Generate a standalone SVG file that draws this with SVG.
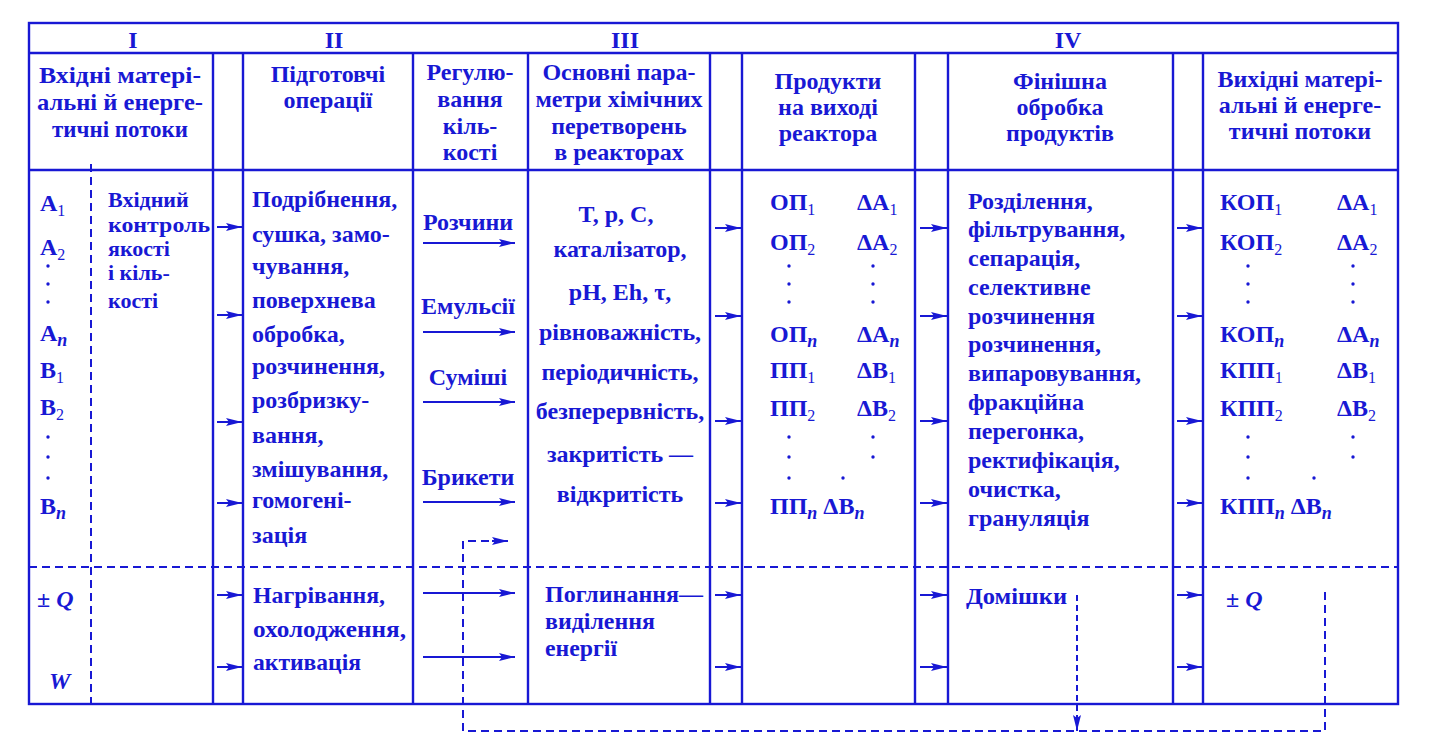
<svg xmlns="http://www.w3.org/2000/svg" width="1429" height="751" viewBox="0 0 1429 751">
<style>
.ln{stroke:#1818d4;stroke-width:2.4;fill:none}
.ds{stroke:#1818d4;stroke-width:2;fill:none;stroke-dasharray:8 5}
.ar{stroke:#1818d4;stroke-width:2;fill:none;marker-end:url(#ah)}
.ad{stroke:#1818d4;stroke-width:2;fill:none;stroke-dasharray:6 4;marker-end:url(#ah)}
text{font-family:"Liberation Serif","Times New Roman",serif;font-weight:bold;fill:#1818d4;font-size:24px}
.c{text-anchor:middle}
.h{font-size:24px}
.s{font-size:16px;font-weight:normal}
.n{font-size:18px;font-style:italic}
.nar{font-size:24px}
.ctl{font-size:22px}
.i{font-style:italic}
.dot{fill:#1818d4}
</style>
<defs>
<marker id="ah" markerUnits="userSpaceOnUse" markerWidth="16" markerHeight="9" refX="16" refY="4.5" orient="auto">
<path d="M0,0.5 L16,4.5 L0,8.5 L3,4.5 z" fill="#1818d4"/>
</marker>
</defs>

<g id="frame">
<rect x="29" y="23" width="1369" height="681" class="ln"/>
<line x1="29" y1="53" x2="1398" y2="53" class="ln"/>
<line x1="29" y1="170" x2="1398" y2="170" class="ln" stroke-width="2.6"/>
<line x1="29" y1="567" x2="1398" y2="567" class="ds"/>
<line x1="213" y1="53" x2="213" y2="704" class="ln"/>
<line x1="243" y1="53" x2="243" y2="704" class="ln"/>
<line x1="413" y1="53" x2="413" y2="704" class="ln"/>
<line x1="528" y1="53" x2="528" y2="704" class="ln"/>
<line x1="710" y1="53" x2="710" y2="704" class="ln"/>
<line x1="742" y1="53" x2="742" y2="704" class="ln"/>
<line x1="915" y1="53" x2="915" y2="704" class="ln"/>
<line x1="948" y1="53" x2="948" y2="704" class="ln"/>
<line x1="1173" y1="53" x2="1173" y2="704" class="ln"/>
<line x1="1203" y1="53" x2="1203" y2="704" class="ln"/>
<line x1="91" y1="164" x2="91" y2="704" class="ds"/>
</g>

<g id="roman">
<text x="133" y="48" class="c">I</text>
<text x="334" y="48" class="c">II</text>
<text x="625" y="48" class="c">III</text>
<text x="1068" y="48" class="c">IV</text>
</g>

<g id="h-input">
<text x="120" y="83" class="c h" textLength="162" lengthAdjust="spacingAndGlyphs">Вхідні матері-</text>
<text x="120" y="110" class="c h" textLength="166" lengthAdjust="spacingAndGlyphs">альні й енерге-</text>
<text x="120" y="137" class="c h" textLength="136" lengthAdjust="spacingAndGlyphs">тичні потоки</text>
</g>
<g id="h-prep">
<text x="328" y="82" class="c h">Підготовчі</text>
<text x="328" y="108" class="c h">операції</text>
</g>
<g id="h-reg">
<text x="470" y="80" class="c h">Регулю-</text>
<text x="470" y="107" class="c h">вання</text>
<text x="470" y="134" class="c h">кіль-</text>
<text x="470" y="160" class="c h">кості</text>
</g>
<g id="h-params">
<text x="619" y="80" class="c h">Основні пара-</text>
<text x="619" y="107" class="c h">метри хімічних</text>
<text x="619" y="134" class="c h">перетворень</text>
<text x="619" y="160" class="c h">в реакторах</text>
</g>
<g id="h-products">
<text x="828" y="89" class="c h">Продукти</text>
<text x="828" y="115" class="c h">на виході</text>
<text x="828" y="141" class="c h">реактора</text>
</g>
<g id="h-finish">
<text x="1060" y="89" class="c h">Фінішна</text>
<text x="1060" y="115" class="c h">обробка</text>
<text x="1060" y="141" class="c h">продуктів</text>
</g>
<g id="h-output">
<text x="1300" y="87" class="c h">Вихідні матері-</text>
<text x="1300" y="113" class="c h">альні й енерге-</text>
<text x="1300" y="139" class="c h">тичні потоки</text>
</g>

<g id="inputs">
<text x="40" y="211">A<tspan class="s" dy="5">1</tspan></text>
<text x="40" y="255">A<tspan class="s" dy="5">2</tspan></text>
<circle cx="48" cy="266" r="1.7" class="dot"/>
<circle cx="48" cy="284" r="1.7" class="dot"/>
<circle cx="48" cy="302" r="1.7" class="dot"/>
<text x="40" y="341">A<tspan class="n" dy="5">n</tspan></text>
<text x="40" y="378">B<tspan class="s" dy="5">1</tspan></text>
<text x="40" y="415">B<tspan class="s" dy="5">2</tspan></text>
<circle cx="48" cy="437" r="1.7" class="dot"/>
<circle cx="48" cy="457" r="1.7" class="dot"/>
<circle cx="48" cy="478" r="1.7" class="dot"/>
<text x="40" y="514">B<tspan class="n" dy="5">n</tspan></text>
<text x="37" y="607" class="i">± Q</text>
<text x="49" y="689" class="i">W</text>
</g>

<g id="control">
<text x="108" y="207" class="ctl">Вхідний</text>
<text x="108" y="232" class="ctl" textLength="102" lengthAdjust="spacingAndGlyphs">контроль</text>
<text x="108" y="256" class="ctl">якості</text>
<text x="108" y="280" class="ctl">і кіль-</text>
<text x="108" y="308" class="ctl">кості</text>
</g>

<g id="prep">
<text x="252" y="207">Подрібнення,</text>
<text x="252" y="242">сушка, замо-</text>
<text x="252" y="274">чування,</text>
<text x="252" y="308">поверхнева</text>
<text x="252" y="342">обробка,</text>
<text x="252" y="374">розчинення,</text>
<text x="252" y="408">розбризку-</text>
<text x="252" y="443">вання,</text>
<text x="252" y="477">змішування,</text>
<text x="252" y="508">гомогені-</text>
<text x="252" y="543">зація</text>
<text x="253" y="603" class="nar" textLength="132" lengthAdjust="spacingAndGlyphs">Нагрівання,</text>
<text x="253" y="637" class="nar" textLength="153" lengthAdjust="spacingAndGlyphs">охолодження,</text>
<text x="253" y="670" class="nar" textLength="108" lengthAdjust="spacingAndGlyphs">активація</text>
</g>

<g id="regulation">
<text x="468" y="230" class="c">Розчини</text>
<text x="468" y="314" class="c">Емульсії</text>
<text x="468" y="385" class="c">Суміші</text>
<text x="468" y="485" class="c">Брикети</text>
</g>

<g id="params">
<text x="616" y="222" class="c">T, p, C,</text>
<text x="620" y="257" class="c">каталізатор,</text>
<text x="620" y="300" class="c">pH, Eh, τ,</text>
<text x="620" y="340" class="c">рівноважність,</text>
<text x="620" y="380" class="c">періодичність,</text>
<text x="620" y="419" class="c">безперервність,</text>
<text x="620" y="462" class="c">закритість —</text>
<text x="620" y="502" class="c">відкритість</text>
<text x="545" y="602" class="nar" textLength="158" lengthAdjust="spacingAndGlyphs">Поглинання—</text>
<text x="545" y="629" class="nar" textLength="110" lengthAdjust="spacingAndGlyphs">виділення</text>
<text x="545" y="656" class="nar" textLength="72" lengthAdjust="spacingAndGlyphs">енергії</text>
</g>

<g id="products">
<text x="770" y="210">ОП<tspan class="s" dy="5">1</tspan></text>
<text x="857" y="210">ΔA<tspan class="s" dy="5">1</tspan></text>
<text x="770" y="250">ОП<tspan class="s" dy="5">2</tspan></text>
<text x="857" y="250">ΔA<tspan class="s" dy="5">2</tspan></text>
<circle cx="789" cy="266" r="1.7" class="dot"/>
<circle cx="789" cy="284" r="1.7" class="dot"/>
<circle cx="789" cy="302" r="1.7" class="dot"/>
<circle cx="873" cy="266" r="1.7" class="dot"/>
<circle cx="873" cy="284" r="1.7" class="dot"/>
<circle cx="873" cy="302" r="1.7" class="dot"/>
<text x="770" y="342">ОП<tspan class="n" dy="5">n</tspan></text>
<text x="857" y="342">ΔA<tspan class="n" dy="5">n</tspan></text>
<text x="770" y="378">ПП<tspan class="s" dy="5">1</tspan></text>
<text x="857" y="378">ΔB<tspan class="s" dy="5">1</tspan></text>
<text x="770" y="416">ПП<tspan class="s" dy="5">2</tspan></text>
<text x="857" y="416">ΔB<tspan class="s" dy="5">2</tspan></text>
<circle cx="789" cy="437" r="1.7" class="dot"/>
<circle cx="789" cy="457" r="1.7" class="dot"/>
<circle cx="789" cy="478" r="1.7" class="dot"/>
<circle cx="873" cy="437" r="1.7" class="dot"/>
<circle cx="873" cy="457" r="1.7" class="dot"/>
<circle cx="843" cy="478" r="1.7" class="dot"/>
<text x="770" y="514">ПП<tspan class="n" dy="5">n</tspan><tspan dy="-5"> ΔB</tspan><tspan class="n" dy="5">n</tspan></text>
</g>

<g id="finish">
<text x="968" y="209">Розділення,</text>
<text x="968" y="237">фільтрування,</text>
<text x="968" y="266">сепарація,</text>
<text x="968" y="295">селективне</text>
<text x="968" y="324">розчинення</text>
<text x="968" y="352">розчинення,</text>
<text x="968" y="381">випаровування,</text>
<text x="968" y="410">фракційна</text>
<text x="968" y="439">перегонка,</text>
<text x="968" y="468">ректифікація,</text>
<text x="968" y="497">очистка,</text>
<text x="968" y="526">грануляція</text>
<text x="966" y="604" class="nar" textLength="101" lengthAdjust="spacingAndGlyphs">Домішки</text>
</g>

<g id="outputs">
<text x="1220" y="210">КОП<tspan class="s" dy="5">1</tspan></text>
<text x="1337" y="210">ΔA<tspan class="s" dy="5">1</tspan></text>
<text x="1220" y="250">КОП<tspan class="s" dy="5">2</tspan></text>
<text x="1337" y="250">ΔA<tspan class="s" dy="5">2</tspan></text>
<circle cx="1248" cy="266" r="1.7" class="dot"/>
<circle cx="1248" cy="284" r="1.7" class="dot"/>
<circle cx="1248" cy="302" r="1.7" class="dot"/>
<circle cx="1353" cy="266" r="1.7" class="dot"/>
<circle cx="1353" cy="284" r="1.7" class="dot"/>
<circle cx="1353" cy="302" r="1.7" class="dot"/>
<text x="1220" y="342">КОП<tspan class="n" dy="5">n</tspan></text>
<text x="1337" y="342">ΔA<tspan class="n" dy="5">n</tspan></text>
<text x="1220" y="378">КПП<tspan class="s" dy="5">1</tspan></text>
<text x="1337" y="378">ΔB<tspan class="s" dy="5">1</tspan></text>
<text x="1220" y="416">КПП<tspan class="s" dy="5">2</tspan></text>
<text x="1337" y="416">ΔB<tspan class="s" dy="5">2</tspan></text>
<circle cx="1248" cy="437" r="1.7" class="dot"/>
<circle cx="1248" cy="457" r="1.7" class="dot"/>
<circle cx="1248" cy="478" r="1.7" class="dot"/>
<circle cx="1353" cy="437" r="1.7" class="dot"/>
<circle cx="1353" cy="457" r="1.7" class="dot"/>
<circle cx="1314" cy="478" r="1.7" class="dot"/>
<text x="1220" y="514">КПП<tspan class="n" dy="5">n</tspan><tspan dy="-5"> ΔB</tspan><tspan class="n" dy="5">n</tspan></text>
<text x="1226" y="607" class="i">± Q</text>
</g>

<g id="connectors">
<line x1="217" y1="227" x2="242" y2="227" class="ar"/>
<line x1="217" y1="315" x2="242" y2="315" class="ar"/>
<line x1="217" y1="422" x2="242" y2="422" class="ar"/>
<line x1="217" y1="503" x2="242" y2="503" class="ar"/>
<line x1="217" y1="595" x2="242" y2="595" class="ar"/>
<line x1="217" y1="667" x2="242" y2="667" class="ar"/>

<line x1="423" y1="243" x2="515" y2="243" class="ar"/>
<line x1="423" y1="332" x2="515" y2="332" class="ar"/>
<line x1="423" y1="402" x2="515" y2="402" class="ar"/>
<line x1="423" y1="502" x2="515" y2="502" class="ar"/>
<line x1="423" y1="593" x2="515" y2="593" class="ar"/>
<line x1="423" y1="657" x2="515" y2="657" class="ar"/>

<line x1="715" y1="228" x2="741" y2="228" class="ar"/>
<line x1="715" y1="316" x2="741" y2="316" class="ar"/>
<line x1="715" y1="421" x2="741" y2="421" class="ar"/>
<line x1="715" y1="503" x2="741" y2="503" class="ar"/>
<line x1="715" y1="595" x2="741" y2="595" class="ar"/>
<line x1="715" y1="667" x2="741" y2="667" class="ar"/>

<line x1="920" y1="228" x2="947" y2="228" class="ar"/>
<line x1="920" y1="316" x2="947" y2="316" class="ar"/>
<line x1="920" y1="421" x2="947" y2="421" class="ar"/>
<line x1="920" y1="503" x2="947" y2="503" class="ar"/>
<line x1="920" y1="595" x2="947" y2="595" class="ar"/>
<line x1="920" y1="667" x2="947" y2="667" class="ar"/>

<line x1="1177" y1="228" x2="1202" y2="228" class="ar"/>
<line x1="1177" y1="316" x2="1202" y2="316" class="ar"/>
<line x1="1177" y1="421" x2="1202" y2="421" class="ar"/>
<line x1="1177" y1="503" x2="1202" y2="503" class="ar"/>
<line x1="1177" y1="595" x2="1202" y2="595" class="ar"/>
<line x1="1177" y1="667" x2="1202" y2="667" class="ar"/>

<path d="M1325,592 V731 H463 V541 H493" class="ds"/>
<line x1="492" y1="541" x2="508" y2="541" class="ar"/>
<line x1="1077" y1="595" x2="1077" y2="731" class="ad"/>
</g>
</svg>
